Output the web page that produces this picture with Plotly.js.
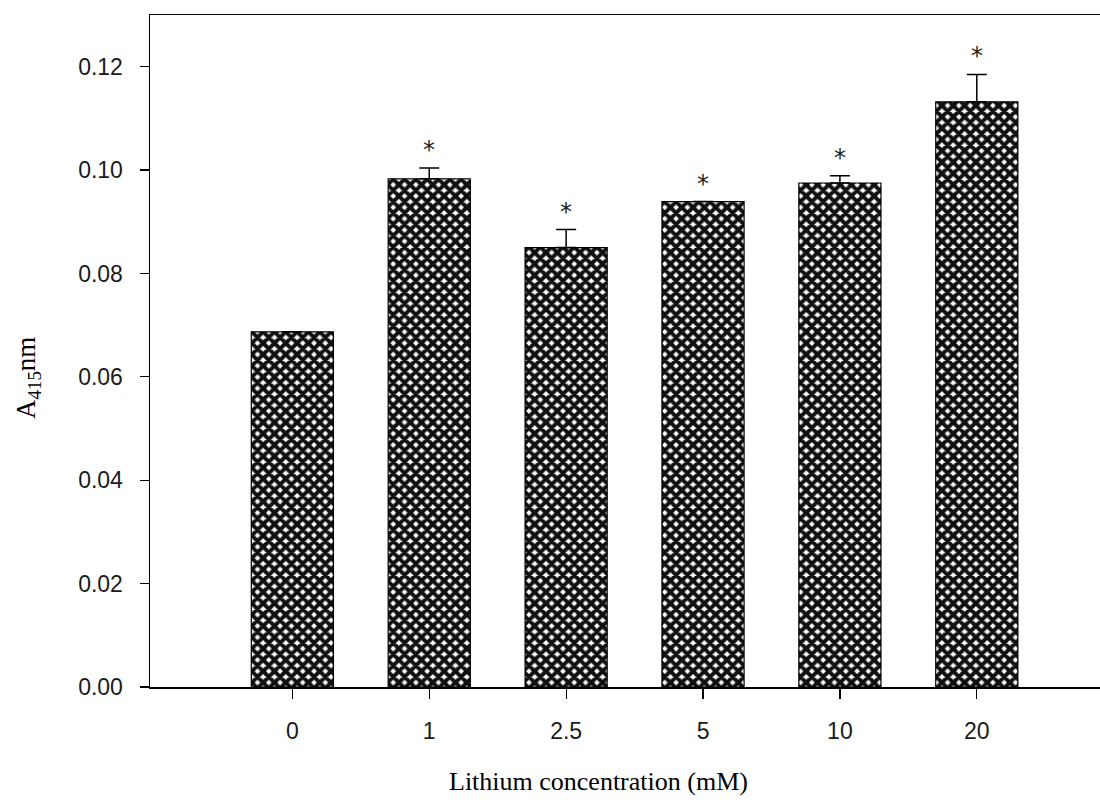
<!DOCTYPE html>
<html>
<head>
<meta charset="utf-8">
<script src="https://cdn.plot.ly/plotly-3.0.1.min.js"></script>
<style>html,body{margin:0;padding:0;background:#fff;}#chart{width:1100px;height:811px;}</style>
</head>
<body>
<div id="chart"></div>
<script>
const categories = ["0", "1", "2.5", "5", "10", "20"];
const absorbance = [0.0687, 0.0983, 0.0850, 0.0939, 0.0975, 0.1132];
const errUpper = [0, 0.0021, 0.0035, 0, 0.0014, 0.0053];
const significant = [false, true, true, true, true, true];
const yTicks = [0, 0.02, 0.04, 0.06, 0.08, 0.10, 0.12];
const yTickLabels = ["0.00", "0.02", "0.04", "0.06", "0.08", "0.10", "0.12"];

const bars = {
  type: 'bar',
  x: categories,
  y: absorbance,
  width: 0.6,
  marker: {
    color: '#ffffff',
    line: {color: '#000000', width: 1.2},
    pattern: {shape: 'x', fgcolor: '#111111', bgcolor: '#ffffff', size: 8, solidity: 0.75}
  },
  error_y: {
    type: 'data', symmetric: false, array: errUpper,
    arrayminus: categories.map(() => 0),
    color: '#000000', thickness: 1.5, width: 10
  },
  hoverinfo: 'skip'
};

const annotations = [];
categories.forEach((c, i) => {
  if (significant[i]) {
    annotations.push({
      x: i, y: absorbance[i] + errUpper[i], xref: 'x', yref: 'y',
      text: '*', showarrow: false, yanchor: 'bottom', yshift: 2,
      font: {family: 'DejaVu Sans, sans-serif', size: 24, color: '#222'}
    });
  }
});
annotations.push({
  xref: 'paper', yref: 'paper', x: (28 - 150) / 950, y: (687 - 378) / 672,
  text: 'A<sub>415</sub>nm', showarrow: false, textangle: -90,
  xanchor: 'center', yanchor: 'middle',
  font: {family: 'Liberation Serif, Times New Roman, serif', size: 27, color: '#000'}
});
annotations.push({
  xref: 'paper', yref: 'paper', x: (598 - 150) / 950, y: (687 - 781) / 672,
  text: 'Lithium concentration (mM)', showarrow: false,
  xanchor: 'center', yanchor: 'middle',
  font: {family: 'Liberation Serif, Times New Roman, serif', size: 26, color: '#000'}
});

const layout = {
  width: 1100, height: 811,
  margin: {l: 150, r: 0, t: 15, b: 124},
  paper_bgcolor: '#ffffff', plot_bgcolor: '#ffffff',
  showlegend: false,
  xaxis: {
    type: 'category', range: [-1.04, 5.9],
    showline: true, linecolor: '#000', linewidth: 1.5, mirror: true,
    ticks: 'outside', ticklen: 10, tickwidth: 1.2, tickcolor: '#000',
    ticklabelstandoff: 13,
    showgrid: false, zeroline: false,
    tickfont: {family: 'Liberation Sans, Arial, sans-serif', size: 23, color: '#1a1a1a'}
  },
  yaxis: {
    range: [0, 0.13],
    tickvals: yTicks, ticktext: yTickLabels,
    showline: true, linecolor: '#000', linewidth: 1.5, mirror: false,
    ticks: 'outside', ticklen: 9, tickwidth: 1.2, tickcolor: '#000',
    ticklabelstandoff: 12,
    showgrid: false, zeroline: false,
    tickfont: {family: 'Liberation Sans, Arial, sans-serif', size: 23, color: '#1a1a1a'}
  },
  annotations: annotations
};

Plotly.newPlot('chart', [bars], layout, {displayModeBar: false, staticPlot: true});
</script>
</body>
</html>
